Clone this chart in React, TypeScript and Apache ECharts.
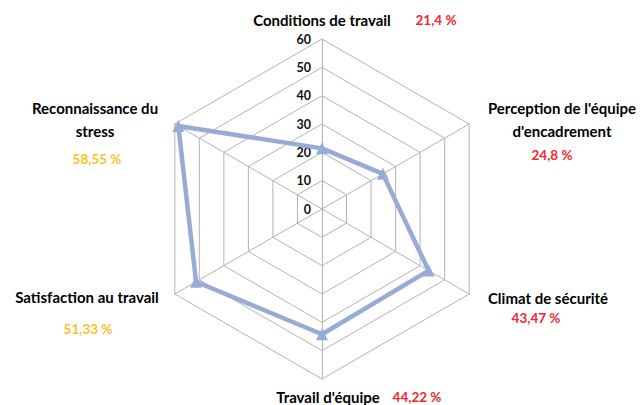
import React, { useEffect, useRef } from "react";
import * as echarts from "echarts";

// Data (clockwise from top, as shown in the reference)
const categories = [
  "Conditions de travail",
  "Perception de l'équipe\nd'encadrement",
  "Climat de sécurité",
  "Travail d'équipe",
  "Satisfaction au travail",
  "Reconnaissance du\nstress",
];
const values = [21.4, 24.8, 43.47, 44.22, 51.33, 58.55];
const pctColors = ["#f2262c", "#f2262c", "#f2262c", "#f2262c", "#fbbf26", "#fbbf26"];
const axisMax = 60;
const tickStep = 10;

const fmtPct = (v: number) => String(v).replace(".", ",") + " %";

// label layout: [name x, name y, pct x, pct y]
const labelPos: [number, number, number, number][] = [
  [322, 20, 436, 20],
  [562, 119, 552, 155],
  [548, 298, 536, 318],
  [328, 397, 417, 397],
  [87, 297, 88, 329],
  [95, 119, 97, 159],
];

export default function App() {
  const ref = useRef<HTMLDivElement>(null);
  useEffect(() => {
    document.body.style.margin = "0";
    const chart = echarts.init(ref.current!, undefined, { renderer: "svg" });
    // ECharts places radar indicators counter-clockwise: reorder
    const order = [0, 5, 4, 3, 2, 1];
    const cx = 322;
    const cy = 209;
    const r = 170;
    const graphics: any[] = [];
    categories.forEach((c, i) => {
      const [nx, ny, px, py] = labelPos[i];
      graphics.push({
        type: "text",
        x: nx,
        y: ny,
        style: {
          text: c,
          fill: "#000",
          font: "bold 15px Lato",
          align: "center",
          verticalAlign: "middle",
          lineHeight: 23,
        },
      });
      graphics.push({
        type: "text",
        x: px,
        y: py,
        style: {
          text: fmtPct(values[i]),
          fill: pctColors[i],
          font: "bold 13.5px Lato",
          align: "center",
          verticalAlign: "middle",
        },
      });
    });
    chart.setOption({
      animation: false,
      backgroundColor: "#fff",
      radar: {
        center: [cx, cy],
        radius: r,
        startAngle: 90,
        shape: "polygon",
        splitNumber: axisMax / tickStep,
        indicator: order.map((i) => ({ name: categories[i], min: 0, max: axisMax })),
        axisName: { show: false },
        axisLine: { lineStyle: { color: "#b3b3b3", width: 1 } },
        splitLine: { lineStyle: { color: "#b3b3b3", width: 1 } },
        splitArea: { show: false },
        axisTick: { show: false },
        axisLabel: { show: false },
      },
      polar: { center: [cx, cy], radius: r },
      angleAxis: { show: false, min: 0, max: 360, startAngle: 90 },
      radiusAxis: {
        min: 0,
        max: axisMax,
        interval: tickStep,
        axisLine: { show: false },
        axisTick: { show: false },
        splitLine: { show: false },
        axisLabel: {
          color: "#111",
          fontWeight: "bold",
          fontSize: 12.5,
          fontFamily: "Lato",
          margin: 11,
        },
      },
      series: [
        {
          type: "radar",
          symbol: "triangle",
          symbolSize: 12,
          lineStyle: { color: "#96abd5", width: 4.5 },
          itemStyle: { color: "#96abd5" },
          data: [{ value: order.map((i) => values[i]) }],
        },
      ],
      graphic: graphics,
    });
    return () => chart.dispose();
  }, []);
  return <div ref={ref} style={{ width: 643, height: 405 }} />;
}
